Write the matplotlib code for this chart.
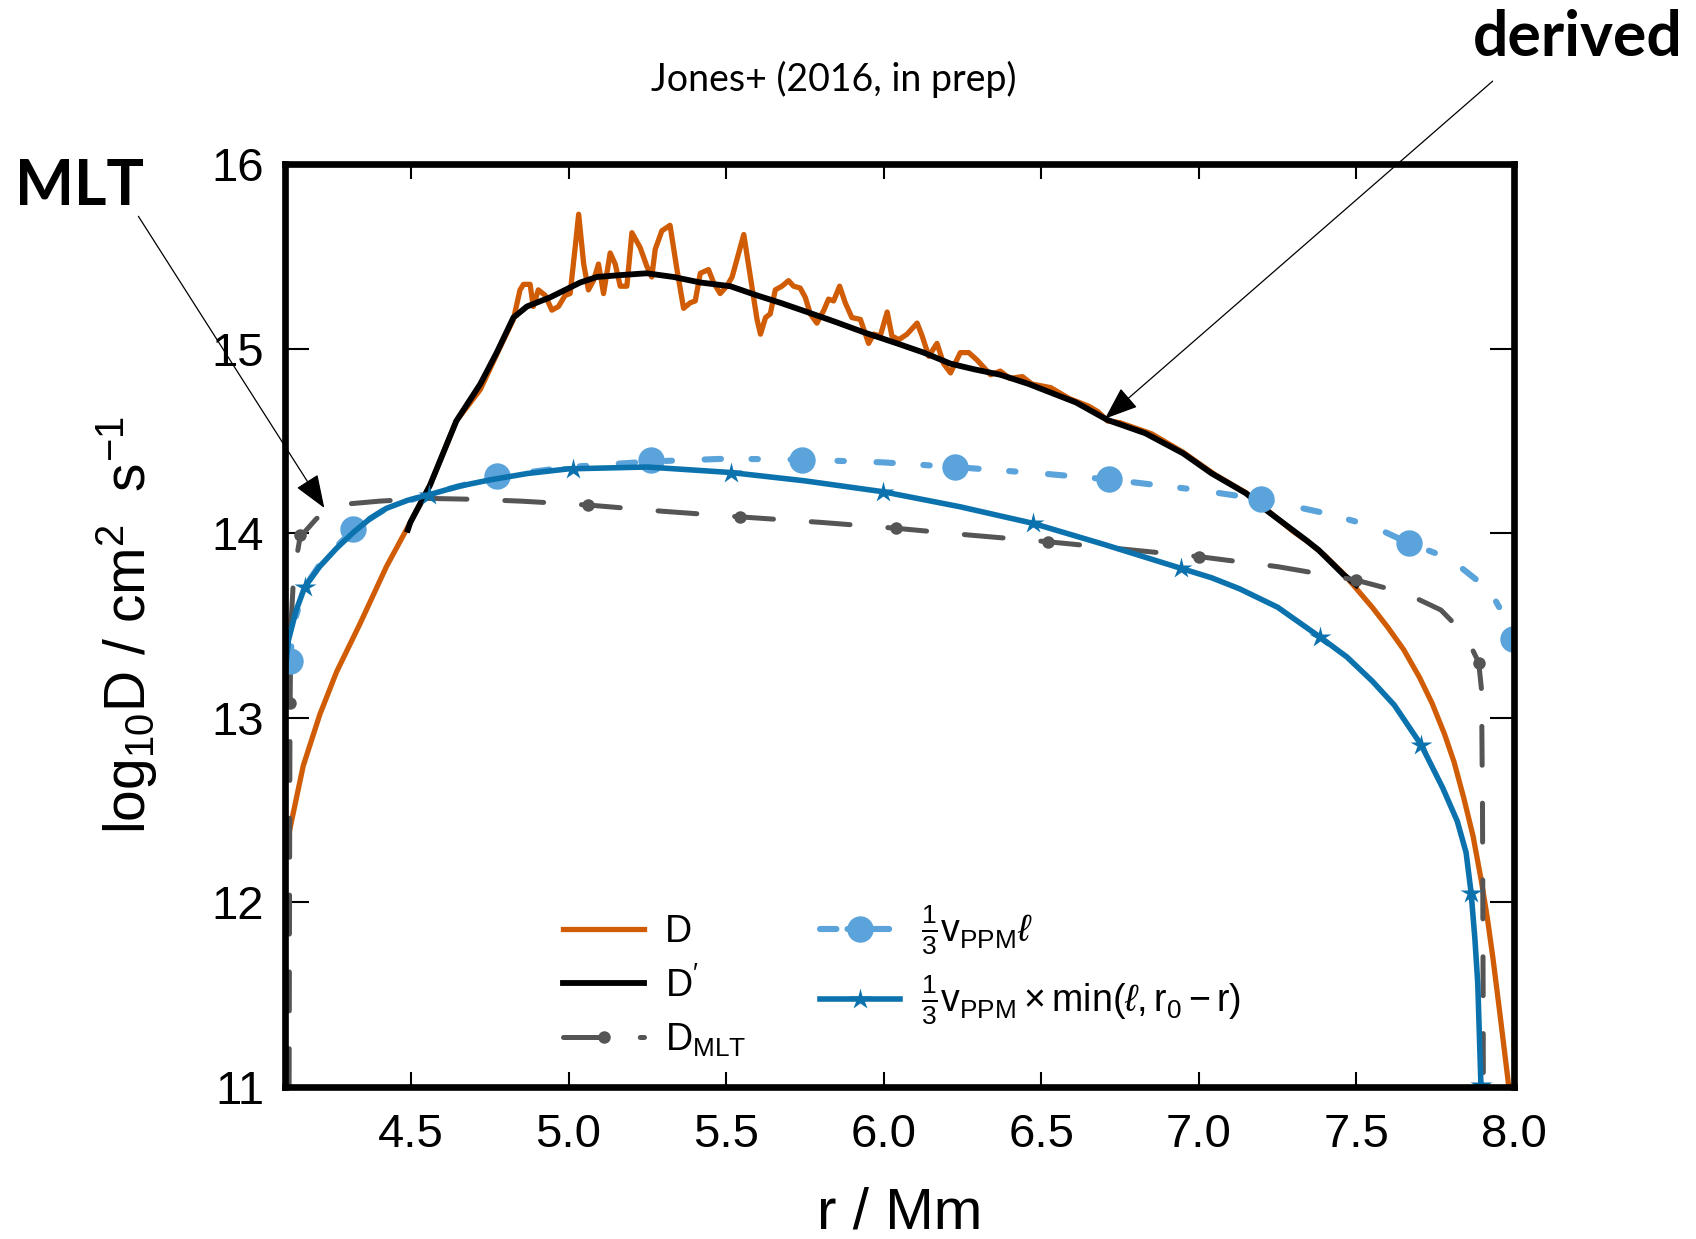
import matplotlib
matplotlib.use('Agg')
import matplotlib.pyplot as plt
import matplotlib.lines as mlines

plt.rcParams['font.family'] = ['Liberation Sans', 'DejaVu Sans']
plt.rcParams['mathtext.fontset'] = 'custom'
plt.rcParams['mathtext.rm'] = 'Liberation Sans'
plt.rcParams['mathtext.it'] = 'Liberation Sans:italic'
plt.rcParams['mathtext.bf'] = 'Liberation Sans:bold'
plt.rcParams['lines.scale_dashes'] = False

# D from the simulation (noisy)
r_D = [4.095, 4.111, 4.158, 4.211, 4.264, 4.338, 4.422, 4.498, 4.56, 4.644, 4.72,
       4.783, 4.825, 4.846, 4.857, 4.878, 4.888, 4.904, 4.926, 4.947, 4.968, 4.989,
       5.005, 5.021, 5.032, 5.048, 5.063, 5.079, 5.095, 5.111, 5.132, 5.148, 5.164,
       5.185, 5.201, 5.227, 5.248, 5.264, 5.275, 5.296, 5.322, 5.344, 5.365, 5.386,
       5.402, 5.418, 5.444, 5.460, 5.481, 5.502, 5.519, 5.556, 5.577, 5.598, 5.609,
       5.625, 5.640, 5.656, 5.677, 5.698, 5.714, 5.735, 5.751, 5.767, 5.788, 5.810,
       5.825, 5.841, 5.860, 5.878, 5.899, 5.926, 5.952, 5.968, 5.989, 6.011, 6.026,
       6.048, 6.074, 6.106, 6.122, 6.143, 6.169, 6.190, 6.212, 6.243, 6.270, 6.296,
       6.339, 6.370, 6.40, 6.44, 6.47, 6.50, 6.53, 6.56, 6.59, 6.62, 6.65, 6.68,
       6.71, 6.75, 6.80, 6.85, 6.90, 6.95, 7.00, 7.05, 7.10, 7.15, 7.20, 7.25, 7.30,
       7.35, 7.40, 7.46, 7.50, 7.55, 7.60, 7.65, 7.70, 7.74, 7.78, 7.81, 7.84, 7.87,
       7.896, 7.915, 7.933, 7.955, 7.98, 8.0]
D = [12.20, 12.36, 12.74, 13.02, 13.25, 13.51, 13.82, 14.06, 14.26, 14.61, 14.78,
     15.01, 15.16, 15.32, 15.35, 15.35, 15.23, 15.32, 15.29, 15.21, 15.23, 15.29,
     15.30, 15.55, 15.73, 15.46, 15.32, 15.37, 15.46, 15.30, 15.52, 15.46, 15.34,
     15.34, 15.63, 15.55, 15.45, 15.39, 15.54, 15.64, 15.67, 15.43, 15.22, 15.25,
     15.26, 15.41, 15.43, 15.36, 15.30, 15.34, 15.39, 15.62, 15.39, 15.16, 15.08,
     15.17, 15.19, 15.32, 15.34, 15.37, 15.34, 15.33, 15.28, 15.19, 15.14, 15.21,
     15.27, 15.26, 15.34, 15.25, 15.17, 15.16, 15.03, 15.08, 15.07, 15.20, 15.07,
     15.05, 15.08, 15.14, 15.07, 14.96, 15.03, 14.92, 14.87, 14.98, 14.98, 14.94,
     14.86, 14.88, 14.84, 14.85, 14.81, 14.80, 14.79, 14.76, 14.73, 14.71, 14.69, 14.66,
     14.61, 14.60, 14.57, 14.54, 14.49, 14.44, 14.38, 14.32, 14.27, 14.22, 14.15, 14.08, 14.01,
     13.95, 13.88, 13.78, 13.70, 13.60, 13.49, 13.37, 13.22, 13.08, 12.91, 12.76, 12.57, 12.36,
     12.12, 11.92, 11.70, 11.40, 11.05, 10.75]

# D' (smoothed / derived profile)
r_Dp = [4.49, 4.498, 4.56, 4.644, 4.72, 4.772, 4.825, 4.868, 4.942, 5.037, 5.090,
        5.164, 5.248, 5.333, 5.418, 5.513, 5.598, 5.672, 5.757, 5.841, 5.937, 6.042,
        6.127, 6.212, 6.286, 6.370, 6.46, 6.61, 6.71, 6.83, 6.95, 7.04, 7.15, 7.22,
        7.34, 7.38, 7.46, 7.50]
Dp = [14.02, 14.06, 14.26, 14.61, 14.81, 14.98, 15.17, 15.23, 15.28, 15.36, 15.39,
      15.40, 15.41, 15.39, 15.36, 15.34, 15.29, 15.25, 15.20, 15.15, 15.09, 15.03,
      14.98, 14.92, 14.89, 14.86, 14.81, 14.71, 14.615, 14.543, 14.434, 14.326, 14.217, 14.118,
      13.964, 13.91, 13.775, 13.72]

# mixing length theory
r_mlt = [4.113, 4.114, 4.115, 4.116, 4.119, 4.128, 4.148, 4.20, 4.243, 4.30, 4.40,
         4.55, 4.70, 4.85, 5.062, 5.30, 5.543, 5.80, 6.039, 6.28, 6.521, 6.76, 7.002,
         7.25, 7.499, 7.657, 7.768, 7.846, 7.888, 7.897, 7.900, 7.902, 7.903]
D_mlt = [10.8, 11.5, 12.3, 13.0, 13.5, 13.78, 13.98, 14.08, 14.13, 14.16, 14.175,
         14.19, 14.185, 14.175, 14.154, 14.12, 14.09, 14.06, 14.028, 13.99, 13.955, 13.915, 13.874,
         13.82, 13.747, 13.675, 13.585, 13.449, 13.30, 13.15, 12.5, 11.5, 10.8]
r_mlt_pts = [4.116, 4.148, 5.062, 5.543, 6.039, 6.521, 7.002, 7.499, 7.888]
D_mlt_pts = [13.08, 13.99, 14.154, 14.09, 14.028, 13.955, 13.874, 13.747, 13.30]

# 1/3 v_PPM * l
r_vl = [4.112, 4.135, 4.163, 4.21, 4.264, 4.317, 4.37, 4.422, 4.55, 4.774, 5.00,
        5.26, 5.50, 5.74, 6.00, 6.226, 6.50, 6.714, 7.00, 7.198, 7.40, 7.55, 7.668,
        7.795, 7.88, 7.928, 7.97, 8.00]
D_vl = [13.30, 13.55, 13.71, 13.83, 13.93, 14.02, 14.08, 14.136, 14.21, 14.31, 14.36,
        14.39, 14.405, 14.40, 14.385, 14.36, 14.325, 14.293, 14.235, 14.185, 14.11, 14.04, 13.946,
        13.865, 13.75, 13.675, 13.55, 13.40]
r_vl_pts = [4.116, 4.317, 4.774, 5.26, 5.74, 6.226, 6.714, 7.198, 7.668, 7.998]
D_vl_pts = [13.31, 14.022, 14.31, 14.40, 14.40, 14.36, 14.293, 14.185, 13.946, 13.43]

# 1/3 v_PPM * min(l, r0 - r)
r_vmin = [4.098, 4.111, 4.135, 4.163, 4.21, 4.264, 4.32, 4.37, 4.422, 4.49, 4.558,
          4.65, 4.75, 4.87, 5.00, 5.25, 5.516, 5.75, 5.998, 6.241, 6.473, 6.70, 6.943,
          7.04, 7.129, 7.25, 7.383, 7.47, 7.55, 7.62, 7.705, 7.774, 7.82, 7.848, 7.864,
          7.876, 7.885, 7.895, 7.898]
D_vmin = [13.20, 13.42, 13.58, 13.71, 13.82, 13.92, 14.01, 14.08, 14.136, 14.18, 14.21,
          14.255, 14.29, 14.325, 14.35, 14.36, 14.33, 14.285, 14.226, 14.145, 14.055, 13.94, 13.811,
          13.76, 13.70, 13.60, 13.44, 13.33, 13.20, 13.07, 12.855, 12.62, 12.44, 12.27, 12.05,
          11.80, 11.56, 11.01, 10.7]
r_vmin_pts = [4.163, 4.558, 5.015, 5.516, 5.998, 6.473, 6.943, 7.383, 7.705, 7.864, 7.895]
D_vmin_pts = [13.71, 14.21, 14.35, 14.33, 14.226, 14.055, 13.811, 13.44, 12.855, 12.05, 11.01]

c_orange = '#D05C06'
c_sky = '#5BA3DB'
c_blue = '#0B72AE'
c_gray = '#555555'

mlt_dash = (29.2, (28.0, 27.3))
vl_dash = (0, (11.8, 22.0, 4.6, 23.5))

fig = plt.figure(figsize=(16.96, 12.39), dpi=100)
ax = fig.add_axes([0.168, 0.1227, 0.7247, 0.7446])

ax.plot(r_D, D, color=c_orange, lw=3.8)
ax.plot(r_Dp, Dp, color='black', lw=4.2)
ax.plot(r_mlt, D_mlt, color=c_gray, lw=3.6, linestyle=mlt_dash, dash_capstyle='round')
ax.plot(r_mlt_pts, D_mlt_pts, 'o', color=c_gray, ms=9, mec='none')
ax.plot(r_vl, D_vl, color=c_sky, lw=4.4, linestyle=vl_dash, dash_capstyle='round')
ax.plot(r_vl_pts, D_vl_pts, 'o', color=c_sky, ms=19, mec='none')
ax.plot(r_vmin, D_vmin, color=c_blue, lw=4.0)
ax.plot(r_vmin_pts, D_vmin_pts, '*', color=c_blue, ms=16, mec='none')

ax.set_xlim(4.1, 8.0)
ax.set_ylim(11, 16)
ax.set_xticks([4.5, 5.0, 5.5, 6.0, 6.5, 7.0, 7.5, 8.0])
ax.set_xticklabels(['4.5', '5.0', '5.5', '6.0', '6.5', '7.0', '7.5', '8.0'])
ax.set_yticks([11, 12, 13, 14, 15, 16])
for s in ax.spines.values():
    s.set_linewidth(4.8)
ax.tick_params(direction='in', top=True, right=True, labelsize=34, width=1.5)
ax.tick_params(axis='x', length=11, pad=19)
ax.tick_params(axis='y', length=17, pad=15)

ax.set_xlabel('r / Mm', fontsize=42)
ax.xaxis.set_label_coords(0.5, -0.108)
ax.set_ylabel(r'$\mathrm{log_{10}D\ /\ cm^2\ \ s^{-1}}$', fontsize=41)
ax.yaxis.set_label_coords(-0.102, 0.5)

# legend proxies (gray handle starts on a dash)
h_D = mlines.Line2D([], [], color=c_orange, lw=3.8, label='D')
h_Dp = mlines.Line2D([], [], color='black', lw=4.2, label=r'D$^{\prime}$')
h_mlt = mlines.Line2D([], [], color=c_gray, lw=3.6, linestyle=(0, (28.0, 27.3)),
                      dash_capstyle='round', marker='o', ms=9, mec='none',
                      label=r'D$_{\mathrm{MLT}}$')
h_vl = mlines.Line2D([], [], color=c_sky, lw=4.4, linestyle=(0, (11.8, 8.0, 30.0, 10.0)),
                     dash_capstyle='round', marker='o', ms=19, mec='none',
                     label=r'$\frac{1}{3}\mathrm{v_{PPM}}\ell$')
h_vmin = mlines.Line2D([], [], color=c_blue, lw=4.0, marker='*', ms=16, mec='none',
                       label=r'$\frac{1}{3}\mathrm{v_{PPM}}\times\mathrm{min}(\ell,\mathrm{r_0}-\mathrm{r})$')
ax.legend(handles=[h_D, h_Dp, h_mlt, h_vl, h_vmin], ncol=2, loc='lower left',
          bbox_to_anchor=(0.199, -0.006), frameon=False, fontsize=27, numpoints=1,
          handlelength=2.15, handletextpad=0.55, columnspacing=1.97, labelspacing=0.45)

fig.text(0.4917, 0.9362, 'Jones+ (2016, in prep)', family='Lato', fontsize=27,
         ha='center', va='center')
fig.text(0.0088, 0.8345, 'MLT', family='Lato', fontweight='bold', fontsize=45,
         ha='left', va='baseline')
fig.text(0.8685, 0.9548, 'derived', family='Lato', fontweight='bold', fontsize=45,
         ha='left', va='baseline')

arrow = dict(arrowstyle='-|>,head_length=1.05,head_width=0.4', mutation_scale=20,
             lw=0.9, color='black', shrinkA=0, shrinkB=0)
ax.annotate('', xy=(4.225, 14.138), xycoords='data', xytext=(0.0816, 0.8254),
            textcoords='figure fraction', arrowprops=arrow, annotation_clip=False)
ax.annotate('', xy=(6.702, 14.622), xycoords='data', xytext=(0.8801, 0.9345),
            textcoords='figure fraction', arrowprops=arrow, annotation_clip=False)

fig.savefig('out.png', dpi=100)
